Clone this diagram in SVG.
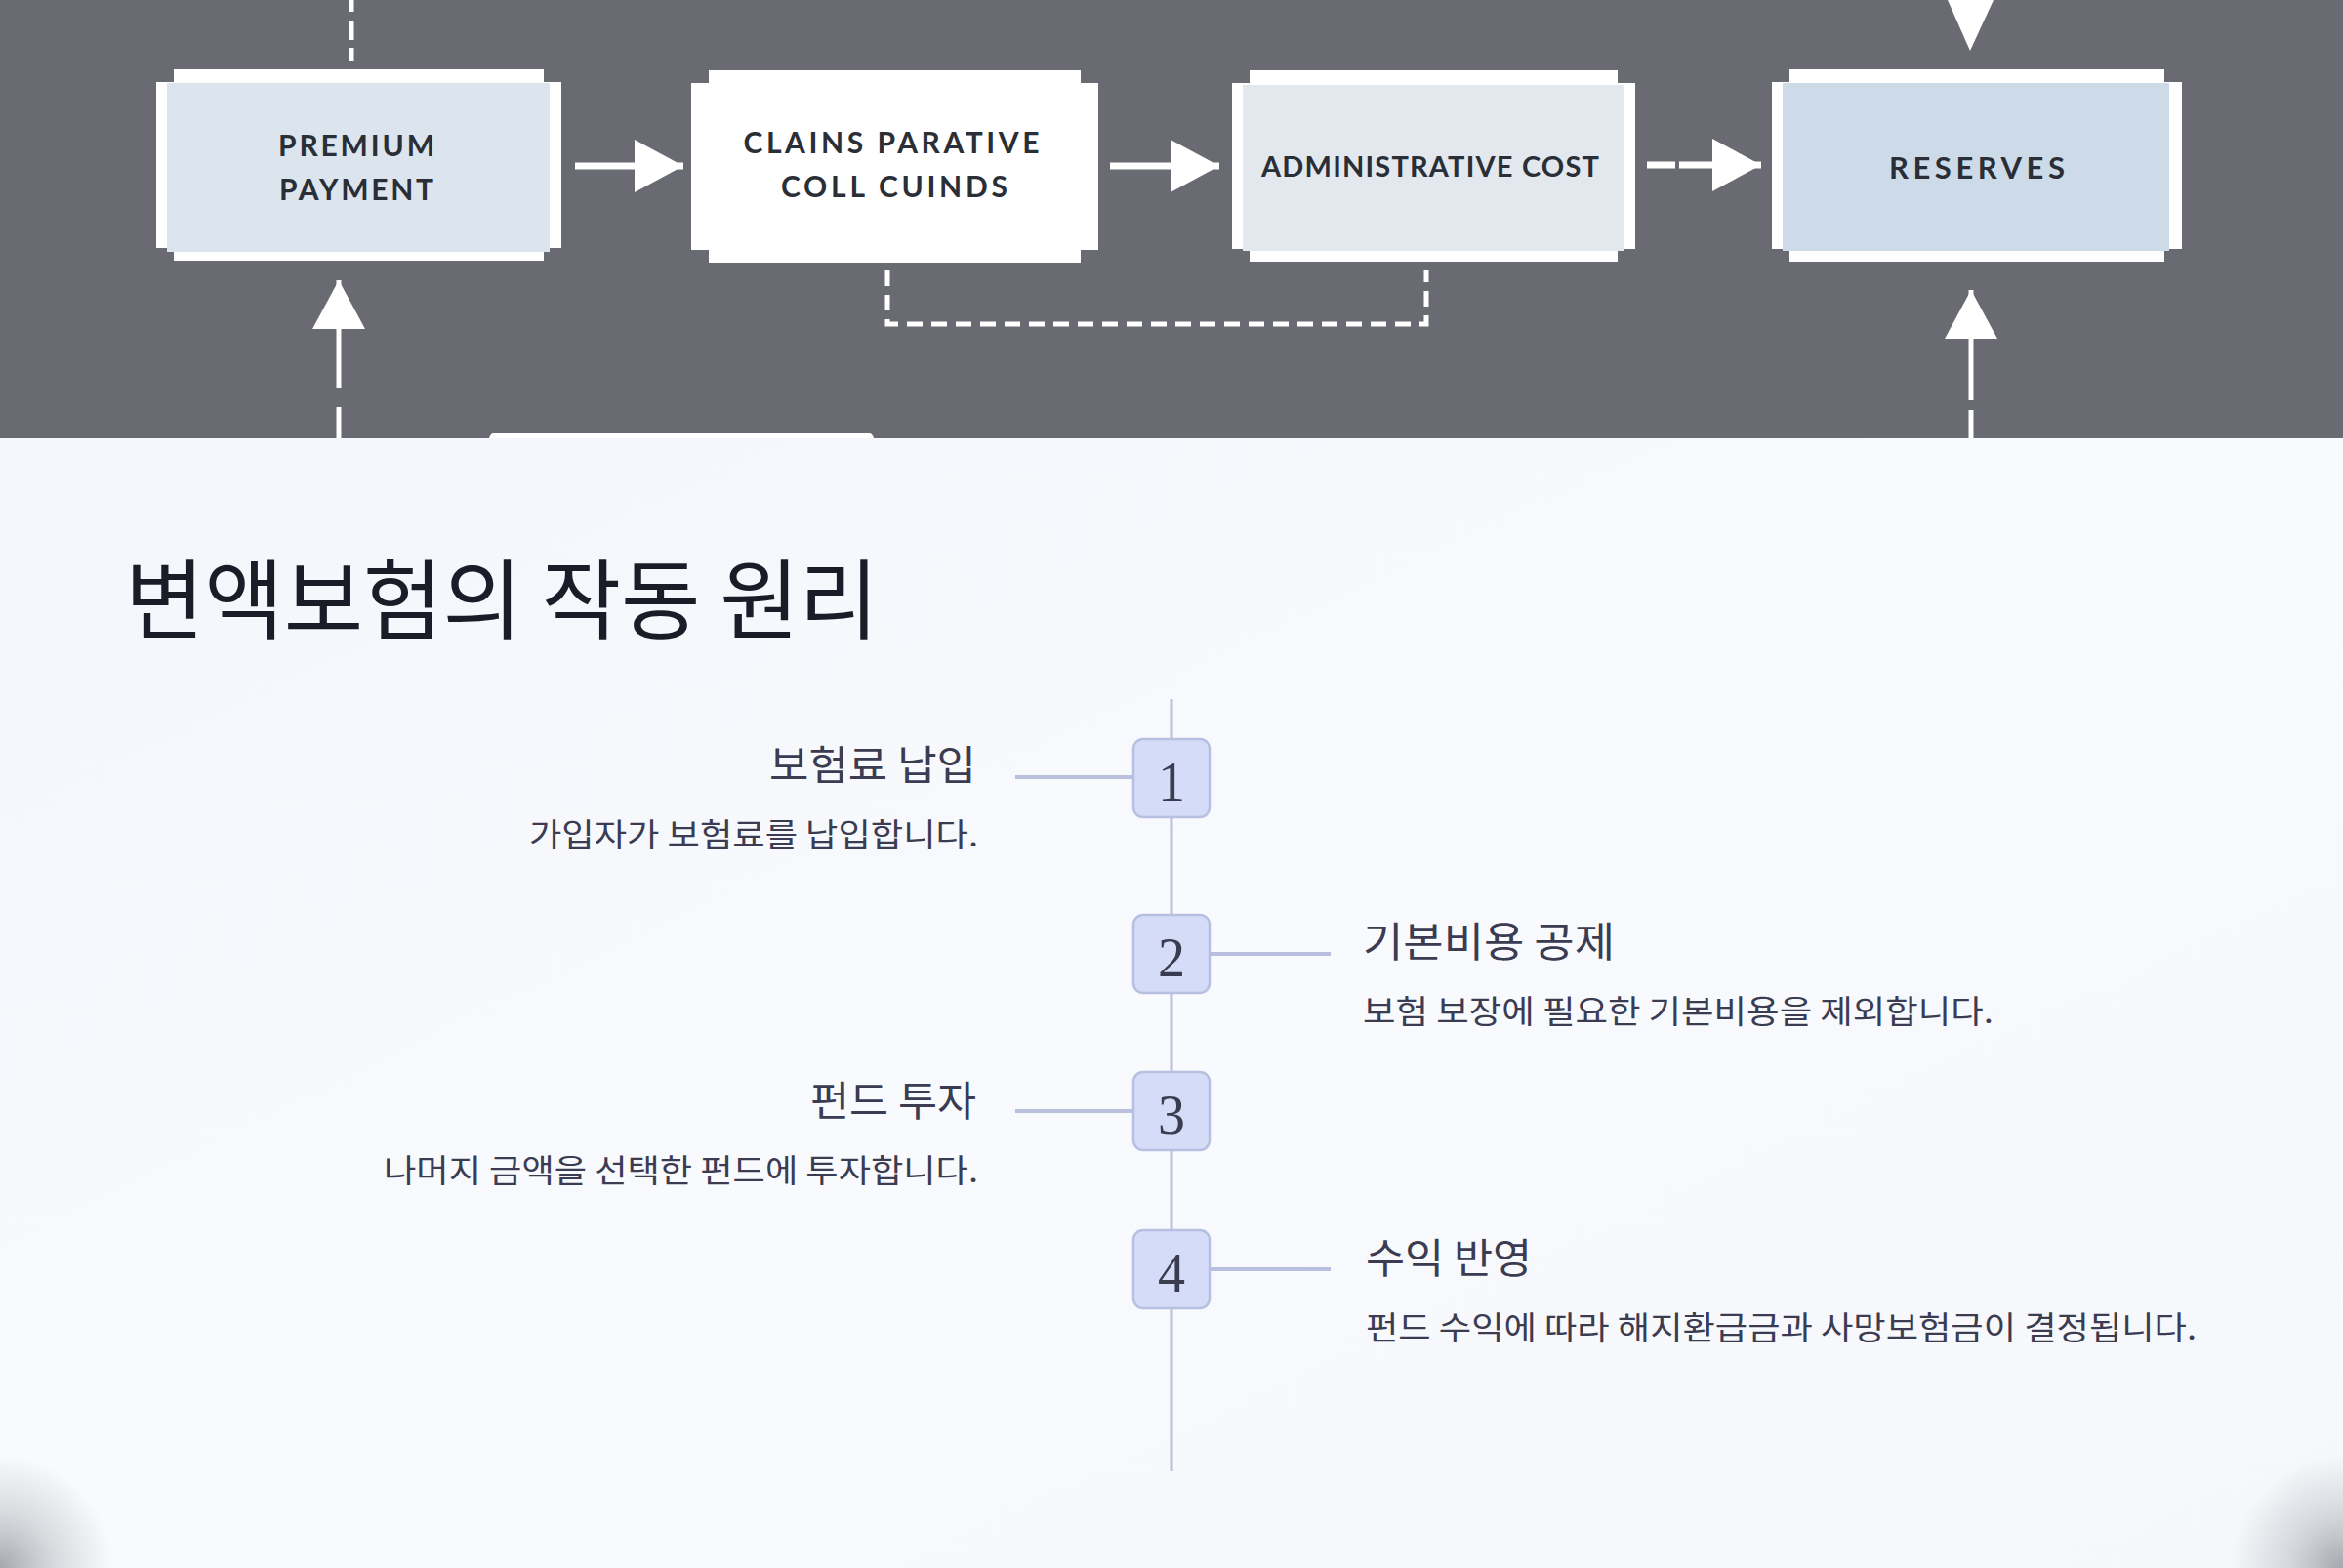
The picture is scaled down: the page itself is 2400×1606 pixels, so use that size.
<svg xmlns="http://www.w3.org/2000/svg" width="2400" height="1606" viewBox="0 0 2400 1606">
  <defs>
    <style>
      .frame { fill: #ffffff; }
      .cap { font-family: Lato, "Noto Sans", "Liberation Sans", sans-serif; font-weight: 700; fill: #2a2e36; text-anchor: middle; }
      .wire { stroke: #ffffff; stroke-width: 7; fill: none; }
      .dash { stroke: #ffffff; stroke-width: 5; fill: none; stroke-dasharray: 16 9; }
      .tl { stroke: #b9c0de; fill: none; }
      .num { fill: #d5dcf8; stroke: #b7c0e0; stroke-width: 2.5; }
      .digit { font-family: "Liberation Serif", "DejaVu Serif", serif; font-size: 56px; fill: #3a3c50; text-anchor: middle; }
      .ko { font-family: "Noto Sans CJK KR", "Noto Sans", sans-serif; fill: #3b3c52; }
      .h { font-size: 42px; }
      .d { font-size: 33px; }
    </style>
    <marker id="head" viewBox="0 0 50 54" markerUnits="userSpaceOnUse" markerWidth="50" markerHeight="54" refX="50" refY="27" orient="auto">
      <path d="M0,0 L50,27 L0,54 Z" fill="#ffffff"/>
    </marker>
    <linearGradient id="lightbg" x1="0" y1="0" x2="1" y2="1">
      <stop offset="0" stop-color="#f4f6fc"/>
      <stop offset="0.5" stop-color="#f9fafd"/>
      <stop offset="1" stop-color="#f6f7fb"/>
    </linearGradient>
    <radialGradient id="vigL" cx="0" cy="1606" r="115" gradientUnits="userSpaceOnUse">
      <stop offset="0" stop-color="#8a8b93" stop-opacity="0.75"/>
      <stop offset="0.5" stop-color="#a0a1a8" stop-opacity="0.35"/>
      <stop offset="1" stop-color="#a0a1a8" stop-opacity="0"/>
    </radialGradient>
    <radialGradient id="vigR" cx="2400" cy="1606" r="115" gradientUnits="userSpaceOnUse">
      <stop offset="0" stop-color="#8a8b93" stop-opacity="0.75"/>
      <stop offset="0.5" stop-color="#a0a1a8" stop-opacity="0.35"/>
      <stop offset="1" stop-color="#a0a1a8" stop-opacity="0"/>
    </radialGradient>
  </defs>

  <!-- backgrounds -->
  <rect x="0" y="0" width="2400" height="449" fill="#696a72"/>
  <rect x="0" y="449" width="2400" height="1157" fill="url(#lightbg)"/>
  <rect x="0" y="1406" width="240" height="200" fill="url(#vigL)"/>
  <rect x="2160" y="1406" width="240" height="200" fill="url(#vigR)"/>
  <!-- partially visible white box at band bottom -->
  <path d="M501,449 V451 Q501,443 509,443 H887 Q895,443 895,451 V449 Z" fill="#ffffff"/>

  <!-- connectors -->
  <g id="connectors">
    <line x1="360" y1="0" x2="360" y2="62" stroke="#ffffff" stroke-width="5" stroke-dasharray="12 9 20 8 20"/>
    <line class="wire" x1="589" y1="170" x2="700" y2="170" marker-end="url(#head)"/>
    <line class="wire" x1="1137" y1="170" x2="1249" y2="170" marker-end="url(#head)"/>
    <line class="wire" x1="1687" y1="169" x2="1804" y2="169" stroke-width="6" stroke-dasharray="29 4 200" marker-end="url(#head)"/>
    <path d="M1995,0 L2042,0 L2018,52 Z" fill="#ffffff"/>
    <line x1="347" y1="397" x2="347" y2="287" stroke="#ffffff" stroke-width="5" marker-end="url(#head)"/>
    <line x1="347" y1="417" x2="347" y2="449" stroke="#ffffff" stroke-width="5"/>
    <line x1="2019" y1="410" x2="2019" y2="297" stroke="#ffffff" stroke-width="5" marker-end="url(#head)"/>
    <line x1="2019" y1="420" x2="2019" y2="449" stroke="#ffffff" stroke-width="5"/>
    <path class="dash" d="M909,277 V332 H1461 V277"/>

    <line class="tl" x1="1200" y1="716" x2="1200" y2="1507" stroke-width="3"/>
    <line class="tl" x1="1040" y1="796" x2="1161" y2="796" stroke-width="4"/>
    <line class="tl" x1="1239" y1="977" x2="1363" y2="977" stroke-width="4"/>
    <line class="tl" x1="1040" y1="1138" x2="1161" y2="1138" stroke-width="4"/>
    <line class="tl" x1="1239" y1="1300" x2="1363" y2="1300" stroke-width="4"/>
  </g>

  <!-- flow nodes -->
  <g id="premium-payment">
    <path class="frame" d="M178,71 H557 V84 H575 V254 H557 V267 H178 V254 H160 V84 H178 Z"/>
    <rect x="171" y="85" width="392" height="173" fill="#dce5ee"/>
    <text class="cap" x="365" y="160" font-size="30" textLength="160" lengthAdjust="spacing">PREMIUM</text>
    <text class="cap" x="365" y="205" font-size="30" textLength="158" lengthAdjust="spacing">PAYMENT</text>
  </g>
  <g id="clains-parative">
    <path class="frame" d="M726,72 H1107 V85 H1125 V256 H1107 V269 H726 V256 H708 V85 H726 Z"/>
    <text class="cap" x="913" y="157" font-size="30" textLength="303" lengthAdjust="spacing">CLAINS PARATIVE</text>
    <text class="cap" x="916" y="202" font-size="30" textLength="232" lengthAdjust="spacing">COLL CUINDS</text>
  </g>
  <g id="administrative-cost">
    <path class="frame" d="M1280,72 H1657 V85 H1675 V255 H1657 V268 H1280 V255 H1262 V85 H1280 Z"/>
    <rect x="1273" y="87" width="390" height="170" fill="#e3e8ef"/>
    <text class="cap" x="1465" y="181" font-size="29" font-weight="600" textLength="346" lengthAdjust="spacing">ADMINISTRATIVE COST</text>
  </g>
  <g id="reserves">
    <path class="frame" d="M1833,71 H2217 V84 H2235 V255 H2217 V268 H1833 V255 H1815 V84 H1833 Z"/>
    <rect x="1826" y="85" width="396" height="172" fill="#cddbe8"/>
    <text class="cap" x="2025" y="183" font-size="31" textLength="180" lengthAdjust="spacing">RESERVES</text>
  </g>

  <!-- title -->
  <text id="title" x="128" y="647" font-family="'Noto Sans CJK KR', 'Noto Sans', sans-serif" font-size="89" fill="#1c1c28" textLength="772" lengthAdjust="spacingAndGlyphs">변액보험의 작동 원리</text>

  <!-- timeline steps -->
  <g id="step-1">
    <rect class="num" x="1161" y="757" width="78" height="80" rx="10"/>
    <text class="digit" x="1200" y="820">1</text>
    <text class="ko h" x="1000" y="799" text-anchor="end" textLength="212" lengthAdjust="spacingAndGlyphs">보험료 납입</text>
    <text class="ko d" x="1002" y="867" text-anchor="end" textLength="460" lengthAdjust="spacingAndGlyphs">가입자가 보험료를 납입합니다.</text>
  </g>
  <g id="step-2">
    <rect class="num" x="1161" y="937" width="78" height="80" rx="10"/>
    <text class="digit" x="1200" y="1000">2</text>
    <text class="ko h" x="1396" y="980" textLength="258" lengthAdjust="spacingAndGlyphs">기본비용 공제</text>
    <text class="ko d" x="1396" y="1048" textLength="646" lengthAdjust="spacingAndGlyphs">보험 보장에 필요한 기본비용을 제외합니다.</text>
  </g>
  <g id="step-3">
    <rect class="num" x="1161" y="1098" width="78" height="80" rx="10"/>
    <text class="digit" x="1200" y="1161">3</text>
    <text class="ko h" x="1000" y="1143" text-anchor="end" textLength="170" lengthAdjust="spacingAndGlyphs">펀드 투자</text>
    <text class="ko d" x="1002" y="1211" text-anchor="end" textLength="609" lengthAdjust="spacingAndGlyphs">나머지 금액을 선택한 펀드에 투자합니다.</text>
  </g>
  <g id="step-4">
    <rect class="num" x="1161" y="1260" width="78" height="80" rx="10"/>
    <text class="digit" x="1200" y="1323">4</text>
    <text class="ko h" x="1399" y="1304" textLength="170" lengthAdjust="spacingAndGlyphs">수익 반영</text>
    <text class="ko d" x="1399" y="1372" textLength="851" lengthAdjust="spacingAndGlyphs">펀드 수익에 따라 해지환급금과 사망보험금이 결정됩니다.</text>
  </g>
</svg>
